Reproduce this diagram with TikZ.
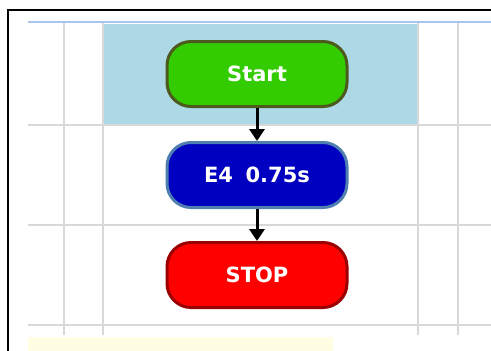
\documentclass[tikz,border=0pt]{standalone}
\usepackage{fontspec}
\setsansfont{DejaVu Sans}
\usepackage{tikz}
\usetikzlibrary{arrows.meta,positioning}

\definecolor{gridgray}{HTML}{D8D8D8}
\definecolor{rowblue}{HTML}{ADD8E6}
\definecolor{topblue}{HTML}{A8C4F0}
\definecolor{noteyellow}{HTML}{FFFDE2}
\definecolor{startfill}{HTML}{33CC00}
\definecolor{startedge}{HTML}{4C5A1E}
\definecolor{tonefill}{HTML}{0000C0}
\definecolor{toneedge}{HTML}{4F7FB0}
\definecolor{stopfill}{HTML}{FF0000}
\definecolor{stopedge}{HTML}{9A0000}

\tikzset{
  block/.style={rounded corners=24pt, line width=3pt, minimum width=180pt,
    minimum height=65pt, text=white, font=\sffamily\bfseries\fontsize{21}{24}\selectfont},
  flow/.style={line width=3pt, -{Triangle[length=12pt,width=15pt]}},
  gridline/.style={gridgray, line width=1.5pt}
}

\begin{document}
\begin{tikzpicture}[x=1pt,y=-1pt]
   \useasboundingbox (0,0) rectangle (491,351);

   % background grid
   \fill[rowblue] (104,24) rectangle (418,125);
   \fill[noteyellow] (28,337) rectangle (333,351);
   \foreach \gx in {64,103,418,458}
     \draw[gridline] (\gx,22) -- (\gx,335);
   \foreach \gy in {125,225,325}
     \draw[gridline] (28,\gy) -- (491,\gy);
   \draw[topblue, line width=1.5pt] (28,22) -- (491,22);
   \draw[line width=2pt] (8,351) -- (8,10) -- (491,10);

   % the program
   \node[block, fill=startfill, draw=startedge] (start) at (257,74) {Start};
   \node[block, fill=tonefill, draw=toneedge] (tone) at (257,175) {E4\hspace{0.6em}0.75s};
   \node[block, fill=stopfill, draw=stopedge] (stop) at (257,275) {STOP};

   \draw[flow] (start) -- (tone);
   \draw[flow] (tone) -- (stop);
\end{tikzpicture}
\end{document}
